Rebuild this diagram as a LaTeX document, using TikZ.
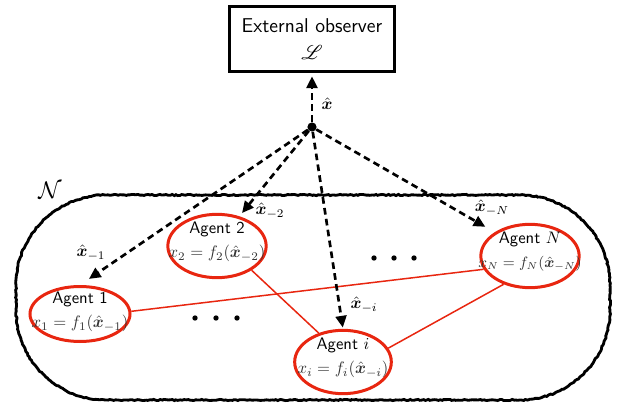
\documentclass[tikz,border=0pt]{standalone}
\usepackage{amsmath,bm,mathrsfs}
\usetikzlibrary{arrows.meta,shapes.geometric,decorations.pathmorphing}
\definecolor{agentred}{RGB}{232,38,16}
\begin{document}
\begin{tikzpicture}[x=0.6pt,y=-0.6pt,
  agent/.style={ellipse, draw=agentred, line width=1.8pt, inner sep=0pt},
  atext/.style={align=center, font=\sffamily, inner sep=0pt},
  darr/.style={line width=1.6pt, dash pattern=on 4pt off 2.6pt, -{Triangle[length=7pt,width=6.5pt]}},
  link/.style={agentred, line width=0.9pt},
  lbl/.style={inner sep=0pt},
  obsbox/.style={draw, line width=1.8pt, minimum width=99pt, minimum height=39pt, align=center, font=\large\sffamily, inner sep=0pt},
  rough/.style={line width=1.7pt, decorate, decoration={random steps, segment length=1.2pt, amplitude=0.35pt}}
]
\useasboundingbox (0,0) rectangle (618,407);
\pgfmathsetseed{7}
% outer set
\draw[rough] (106,195) -- (520,195)
  arc[start angle=-90, end angle=0, radius=90] -- (610,310)
  arc[start angle=0, end angle=90, radius=90] -- (106,400)
  arc[start angle=90, end angle=180, radius=90] -- (16,285)
  arc[start angle=180, end angle=270, radius=90] -- cycle;
\node[lbl, font=\Large] (Nlabel) at (50,190) {$\mathcal{N}$};

% observer
\node[obsbox] (obs) at (312,39) {External observer\\[2pt]$\mathscr{L}$};
\node[circle, fill, inner sep=0pt, minimum size=5.5pt] (dot) at (312,127) {};
\draw[darr, shorten >=2pt] (dot) -- (obs);
\node[lbl] (lx) at (327,104) {$\hat{\bm{x}}$};

% agents
\node[agent, minimum width=60pt, minimum height=33pt] (a1) at (80,314) {};
\node[agent, minimum width=59pt, minimum height=38pt] (a2) at (217,246) {};
\node[agent, minimum width=59pt, minimum height=38pt] (aN) at (530,256) {};
\node[agent, minimum width=58pt, minimum height=38pt] (ai) at (343,362) {};

\node[atext] (t1) at (80,312) {Agent 1\\[2.5pt]\color{black!80}$x_1=f_1(\hat{\bm{x}}_{-1})$};
\node[atext] (t2) at (217,242) {Agent 2\\[2.5pt]\color{black!80}$x_2=f_2(\hat{\bm{x}}_{-2})$};
\node[atext] (tN) at (530,252) {Agent $N$\\[2.5pt]\color{black!80}\small$x_N=f_N(\hat{\bm{x}}_{-N})$};
\node[atext] (ti) at (343,358) {Agent $i$\\[2.5pt]\color{black!80}$x_i=f_i(\hat{\bm{x}}_{-i})$};

% links
\draw[link] (a1.3) -- (aN.196);
\draw[link] (a2.-35) -- (ai.130);
\draw[link] (aN.227) -- (ai.17);

% dashed arrows
\draw[darr, shorten >=6.5pt] (dot) -- (a1.north);
\draw[darr, shorten >=2.5pt] (dot) -- (a2.53);
\draw[darr, shorten >=0.8pt] (dot) -- (ai.north);
\draw[darr, shorten >=6.5pt] (dot) -- (aN.146);

\node[lbl] (l1) at (91,253) {$\hat{\bm{x}}_{-1}$};
\node[lbl] (l2) at (270,211) {$\hat{\bm{x}}_{-2}$};
\node[lbl] (li) at (364,305) {$\hat{\bm{x}}_{-i}$};
\node[lbl] (lN) at (492,208) {$\hat{\bm{x}}_{-N}$};

% ellipsis dots
\foreach \xx in {374,394,414} \fill (\xx,258) circle (1.6pt);
\foreach \xx in {195,216,237} \fill (\xx,318) circle (1.6pt);
\end{tikzpicture}
\end{document}
